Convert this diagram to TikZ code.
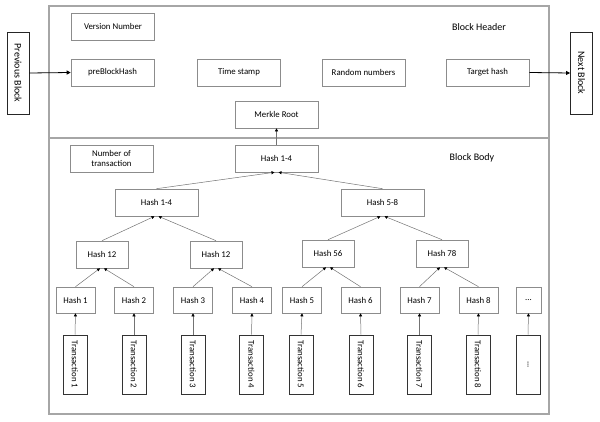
\documentclass[tikz,border=0pt]{standalone}
\usepackage{fontspec}
\setmainfont{Carlito}
\usetikzlibrary{arrows.meta}
\begin{document}
\begin{tikzpicture}[x=1pt,y=-1pt,
  every node/.style={inner sep=0pt, font=\fontsize{8.8}{10}\selectfont, text=black},
  hbox/.style={draw=black!45, line width=0.6pt, minimum width=83pt, minimum height=27pt, align=center},
  sbox/.style={hbox, minimum width=52pt},
  leaf/.style={hbox, minimum width=39pt, minimum height=26pt},
  tbox/.style={draw=black!80, line width=1pt, minimum width=24pt, minimum height=59pt},
  side/.style={draw=black!85, line width=0.9pt, minimum width=22pt, minimum height=82pt},
  big/.style={font=\fontsize{10}{12}\selectfont},
  arr/.style={draw=black!55, line width=0.5pt, -{Triangle[length=3pt,width=3pt,black]}},
  barr/.style={draw=black, line width=0.8pt, -{Triangle[length=4pt,width=4pt,black]}}
]
\useasboundingbox (0,0) rectangle (600,422);
% frame
\draw[black!35, line width=1.2pt] (49,6) rectangle (549,414);
\draw[black!35, line width=1.2pt] (49,138) -- (549,138);
% side blocks
\node[side] (prev) at (18,73) {};
\node[big, rotate=-90] at (prev.center) {Previous Block};
\node[side] (next) at (581.5,73) {};
\node[big, rotate=-90] at (next.center) {Next Block};
% header
\node[hbox] (vn) at (113,26.5) {Version Number};
\node[hbox] (pbh) at (112.5,72.5) {preBlockHash};
\node[hbox] (ts) at (239,72.5) {Time stamp};
\node[hbox] (rn) at (363.5,72.5) {Random numbers};
\node[hbox] (th) at (487.5,72.5) {Target hash};
\node[big] (bh) at (479,27) {Block Header};
\node[hbox] (mr) at (276.5,114.5) {Merkle Root};
% body
\node[big] (bb) at (472,158) {Block Body};
\node[hbox, font=\fontsize{8.8}{10.5}\selectfont] (nt) at (111.5,158.5) {Number of\\transaction};
\node[hbox] (r) at (276.5,158.5) {Hash 1-4};
\node[hbox] (l) at (156.5,202.5) {Hash 1-4};
\node[hbox] (rr) at (382.5,202.5) {Hash 5-8};
\node[sbox] (a) at (102,254.5) {Hash 12};
\node[sbox] (b) at (216,254.5) {Hash 12};
\node[sbox] (c) at (328,253.5) {Hash 56};
\node[sbox] (d) at (442,253.5) {Hash 78};
\node[leaf] (h1) at (75.5,300) {Hash 1};
\node[leaf] (h2) at (134,300) {Hash 2};
\node[leaf] (h3) at (193,300) {Hash 3};
\node[leaf] (h4) at (252,300) {Hash 4};
\node[leaf] (h5) at (302,300) {Hash 5};
\node[leaf] (h6) at (360.5,300) {Hash 6};
\node[leaf] (h7) at (419.5,300) {Hash 7};
\node[leaf] (h8) at (478.5,300) {Hash 8};
\node[leaf, minimum width=25pt] (h9) at (528.5,300) {...};
\foreach \n/\x in {1/75,2/134,3/193,4/251.5,5/301,6/361,7/419.5,8/478}{
  \node[tbox] (t\n) at (\x,364.5) {};
  \node[rotate=-90] at (t\n.center) {Transaction \n};
}
\node[tbox] (t9) at (528,364.5) {};
\node[rotate=-90] at (t9.center) {...};
% arrows
\draw[barr] (prev.east) -- (pbh.west);
\draw[barr] (th.east) -- (next.west);
\draw[arr] (r.north) -- (mr.south);
\foreach \i in {1,...,9}{ \draw[arr] (t\i.north) -- (h\i.south); }
\draw[arr] (h1.north) -- ([xshift=-2pt]a.south);
\draw[arr] (h2.north) -- ([xshift=2pt]a.south);
\draw[arr] (h3.north) -- ([xshift=-2pt]b.south);
\draw[arr] (h4.north) -- ([xshift=2pt]b.south);
\draw[arr] (h5.north) -- ([xshift=-2pt]c.south);
\draw[arr] (h6.north) -- ([xshift=2pt]c.south);
\draw[arr] (h7.north) -- ([xshift=-2pt]d.south);
\draw[arr] (h8.north) -- ([xshift=2pt]d.south);
\draw[arr] (a.north) -- ([xshift=-2pt]l.south);
\draw[arr] (b.north) -- ([xshift=2pt]l.south);
\draw[arr] (c.north) -- ([xshift=-2pt]rr.south);
\draw[arr] (d.north) -- ([xshift=2pt]rr.south);
\draw[arr] (l.north) -- ([xshift=-2pt]r.south);
\draw[arr] (rr.north) -- ([xshift=2pt]r.south);
\end{tikzpicture}
\end{document}
